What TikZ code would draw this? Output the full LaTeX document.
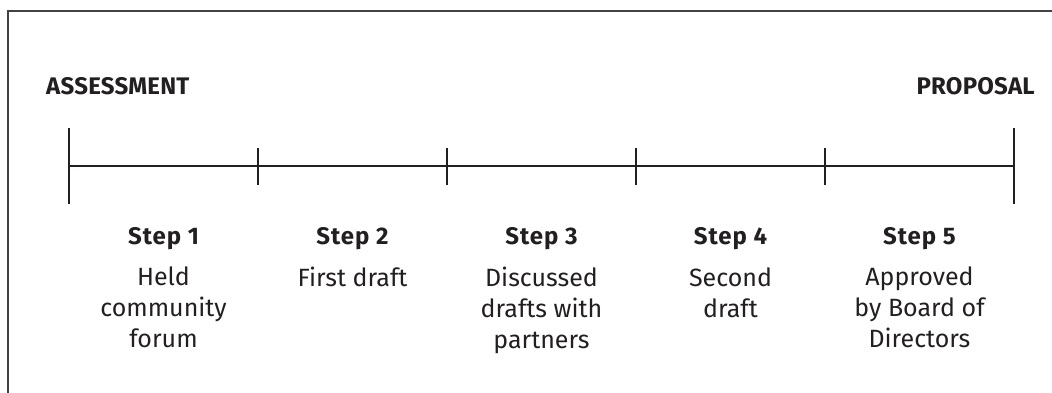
\documentclass[tikz,border=0pt]{standalone}
\usepackage{fontspec}
\setmainfont{Fira Sans}
\newfontfamily\titlefont[LetterSpace=4]{Fira Sans}
\newfontfamily\endfont[LetterSpace=1]{Fira Sans}
\definecolor{ink}{HTML}{231F20}
\begin{document}
\begin{tikzpicture}[x=1pt,y=-1pt,
  frame/.style={draw=ink!85,line width=1.5pt},
  axis/.style={draw=ink,line width=2.2pt},
  endlabel/.style={font=\endfont\fontsize{24}{28}\selectfont\bfseries,text=ink,inner sep=0pt},
  steptitle/.style={font=\titlefont\fontsize{24}{28}\selectfont\bfseries,text=ink,inner sep=0pt,anchor=base},
  stepbody/.style={font=\fontsize{25}{31}\selectfont,text=ink,align=center,inner sep=0pt,anchor=north}]
\useasboundingbox (0,0) rectangle (1052,392);
% frame (left and top)
\coordinate (fbl) at (8,400);
\coordinate (ftl) at (8,11);
\coordinate (ftr) at (1060,11);
\draw[frame] (fbl) -- (ftl) -- (ftr);
% timeline
\coordinate (t0) at (69,166);
\coordinate (t1) at (258,166);
\coordinate (t2) at (447,166);
\coordinate (t3) at (636,166);
\coordinate (t4) at (825,166);
\coordinate (t5) at (1014,166);
\draw[axis] (t0) -- (t5);
\draw[axis] ([yshift=-38pt]t0) -- ([yshift=38pt]t0);
\draw[axis] ([yshift=-38pt]t5) -- ([yshift=38pt]t5);
\foreach \i in {1,2,3,4}{
  \draw[axis] ([yshift=-18.5pt]t\i) -- ([yshift=18.5pt]t\i);
}
% end labels
\node[endlabel,anchor=base west] (assess) at (46,94) {ASSESSMENT};
\node[endlabel,anchor=base east] (prop) at (1035,94) {PROPOSAL};
% steps
\node[steptitle] (s1) at (163.5,244) {Step 1};
\node[steptitle] (s2) at (352.5,244) {Step 2};
\node[steptitle] (s3) at (541.5,244) {Step 3};
\node[steptitle] (s4) at (730.5,244) {Step 4};
\node[steptitle] (s5) at (919.5,244) {Step 5};
\node[stepbody] (b1) at (163.5,266.5) {Held\\community\\forum};
\node[stepbody] (b2) at (352.5,266.5) {First draft};
\node[stepbody] (b3) at (541.5,266.5) {Discussed\\drafts with\\partners};
\node[stepbody] (b4) at (730.5,267.5) {Second\\draft};
\node[stepbody] (b5) at (919.5,266.5) {Approved\\by Board of\\Directors};
\end{tikzpicture}
\end{document}
